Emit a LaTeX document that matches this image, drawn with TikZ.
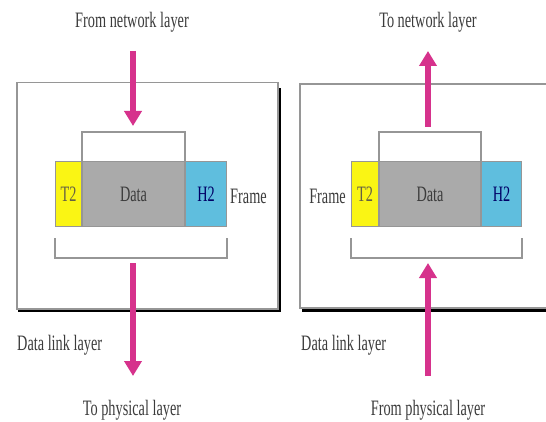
\documentclass[tikz,border=0pt]{standalone}
\usepackage{fontspec}
\setmainfont[FakeStretch=0.65]{Liberation Serif}
\usetikzlibrary{arrows.meta}
\definecolor{arrmag}{RGB}{214,50,140}
\definecolor{fyel}{RGB}{250,245,20}
\definecolor{fgray}{RGB}{170,170,170}
\definecolor{fblue}{RGB}{95,190,222}
\definecolor{txt}{RGB}{60,60,60}
\definecolor{edge}{RGB}{150,150,150}
\tikzset{
  lbl/.style={font=\fontsize{22}{24}\selectfont, text=txt, inner sep=0pt},
  fld/.style={draw=edge, line width=1pt, minimum height=65pt, inner sep=0pt, font=\fontsize{22}{24}\selectfont},
  brk/.style={draw=edge, line width=1.6pt},
  arr/.style={draw=arrmag, line width=5.5pt, -{Triangle[width=17pt,length=15pt]}},
  panel/.style={draw=edge, line width=1.5pt},
  shadow/.style={draw=black, line width=4pt}
}
\begin{document}
\begin{tikzpicture}[x=1pt,y=-1pt]
\useasboundingbox[fill=white] (0,0) rectangle (546,422);
% ---------- left panel ----------
\draw[shadow] (18,310) -- (279,310) -- (279,88);
\node[panel, minimum width=261pt, minimum height=226pt, anchor=north west] (boxL) at (16,82) {};
\node[fld, fill=fyel, minimum width=26pt, anchor=north west, text=black!70!yellow] (t2L) at (55,161) {T2};
\node[fld, fill=fgray, minimum width=102pt, anchor=west, text=txt] (dataL) at (t2L.east) {Data};
\node[fld, fill=fblue, minimum width=41pt, anchor=west, text=black!60!blue] (h2L) at (dataL.east) {H2};
\node[lbl, anchor=west] (frameL) at (230,196) {Frame};
\draw[brk] (dataL.north west) -- ++(0,-29) -| (dataL.north east);
\draw[brk] ([yshift=-11pt]t2L.south west) -- ++(0,20) -| ([yshift=-11pt]h2L.south east);
\node[lbl] (fromNet) at (132,22) {From network layer};
\node[lbl] (toPhy) at (132,410) {To physical layer};
\node[lbl, anchor=west] (dllL) at (17,345) {Data link layer};
\coordinate (a1s) at (133,51);
\coordinate (a1e) at (133,126);
\coordinate (a2s) at (133,263);
\coordinate (a2e) at (133,376);
\draw[arr] (a1s) -- (a1e);
\draw[arr] (a2s) -- (a2e);
% ---------- right panel ----------
\draw[shadow] (302,310) -- (546,310);
\draw[panel] (560,84) -- (300,84) -- (300,308) -- (560,308);
\node[fld, fill=fyel, minimum width=27pt, anchor=north west, text=black!70!yellow] (t2R) at (351,161) {T2};
\node[fld, fill=fgray, minimum width=101pt, anchor=west, text=txt] (dataR) at (t2R.east) {Data};
\node[fld, fill=fblue, minimum width=40pt, anchor=west, text=black!60!blue] (h2R) at (dataR.east) {H2};
\node[lbl, anchor=east] (frameR) at (346,196) {Frame};
\draw[brk] (dataR.north west) -- ++(0,-29) -| (dataR.north east);
\draw[brk] ([yshift=-11pt]t2R.south west) -- ++(0,20) -| ([yshift=-11pt]h2R.south east);
\node[lbl] (toNet) at (428,22) {To network layer};
\node[lbl] (fromPhy) at (428,410) {From physical layer};
\node[lbl, anchor=west] (dllR) at (301,345) {Data link layer};
\coordinate (b1s) at (428,127);
\coordinate (b1e) at (428,51);
\coordinate (b2s) at (428,376);
\coordinate (b2e) at (428,263);
\draw[arr] (b1s) -- (b1e);
\draw[arr] (b2s) -- (b2e);
\end{tikzpicture}
\end{document}
